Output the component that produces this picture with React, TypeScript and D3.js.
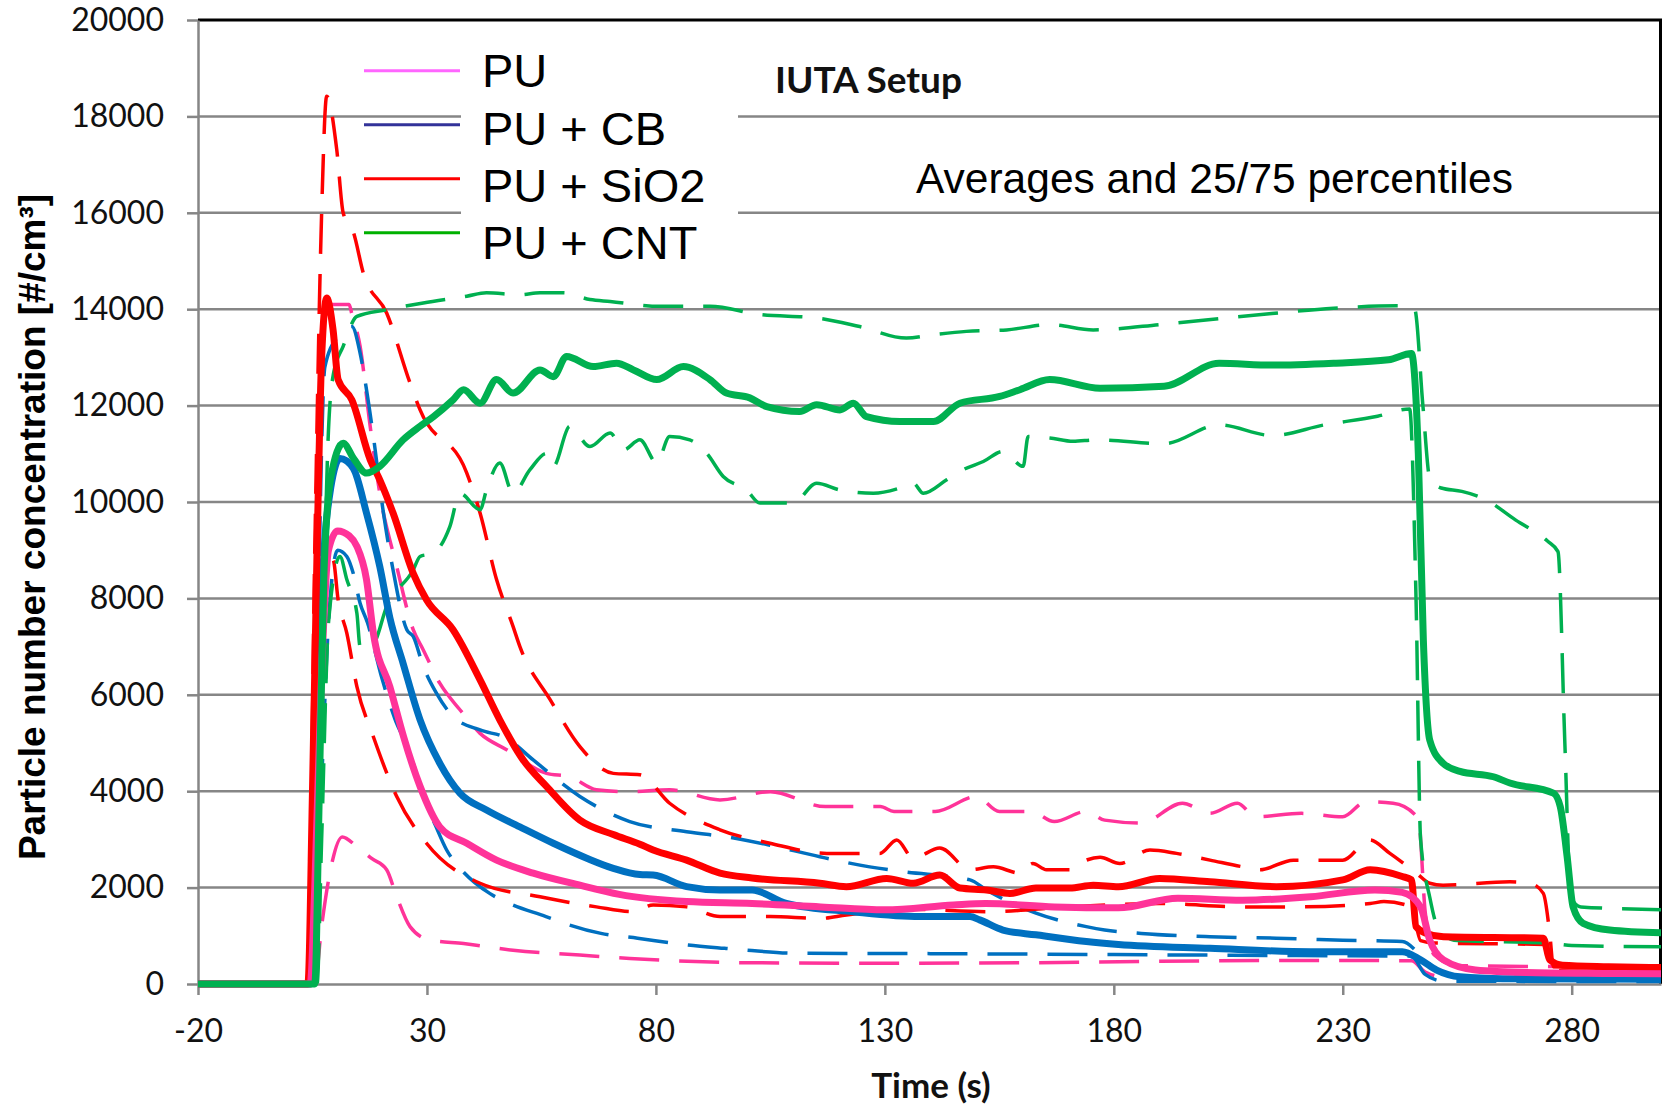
import React, { useEffect, useRef } from "react";
import { select, scaleLinear, axisLeft, axisBottom, line, curveMonotoneX } from "d3";

type Pt = [number, number];

// time (s) ticks and concentration ticks
const xTicks = [-20, 30, 80, 130, 180, 230, 280];
const yTicks = [0, 2000, 4000, 6000, 8000, 10000, 12000, 14000, 16000, 18000, 20000];

// PU
const puAvg: Pt[] = [[-20,0],[4.5,0],[5.5,2000],[7,6500],[8.5,9000],[10.5,9400],[13,9300],[14.7,9080],[16.8,8390],[18.3,7280],[21.9,6170],[24.9,5130],[28.5,4100],[32.8,3260],[38.7,2920],[45.2,2570],[53.2,2300],[63.4,2050],[72,1860],[86.7,1710],[101,1670],[116,1600],[130,1540],[145,1640],[152,1670],[167,1600],[181,1580],[194,1780],[208,1740],[223,1810],[237,1950],[243,1900],[247,1600],[249,910],[252,500],[259,290],[270,240],[288,220],[300,210]];
const puP75: Pt[] = [[-20,0],[4,0],[5,5000],[6.5,12000],[8.5,14100],[13,14100],[13.6,13900],[15.4,13230],[17.6,11570],[19.7,10180],[23.4,8660],[27,7350],[29.2,6930],[32.8,6240],[37.2,5690],[41.6,5200],[47.4,4860],[56.1,4370],[61.2,4300],[67,4030],[74,3990],[83,4030],[94,3820],[105,3990],[117,3680],[129,3680],[132,3580],[141,3580],[150,3890],[155,3580],[162,3580],[167,3370],[174,3580],[178,3400],[186,3340],[195,3750],[201,3540],[207,3750],[211,3470],[221,3540],[230,3470],[235,3780],[241,3750],[246.5,3440],[248,1500],[250,600],[255,380],[300,350]];
const puP25: Pt[] = [[-20,0],[5.5,0],[7,1200],[9,2400],[11.5,3050],[14.7,2850],[18,2600],[21.2,2370],[23.4,1810],[26.3,1190],[30.7,910],[38,840],[48.8,700],[63.4,600],[74.3,530],[101,440],[130,430],[160,440],[200,480],[230,490],[245,480],[248,250],[252,150],[300,130]];

// PU + CB
const cbAvg: Pt[] = [[-20,0],[4.5,0],[5.5,3000],[7,8000],[9,10300],[11,10900],[13.9,10700],[16.8,9770],[19.7,8660],[21.9,7600],[24.8,6650],[28.5,5480],[32.8,4580],[37.2,3960],[43,3610],[50.3,3260],[57.6,2920],[64.9,2610],[70.7,2400],[76.5,2270],[79.4,2260],[86.7,2020],[94,1950],[101,1950],[108.5,1670],[123,1500],[137.6,1400],[148.6,1400],[150.7,1330],[155.8,1120],[163,1020],[174,880],[181,820],[201,740],[223,670],[243,670],[247,500],[250.5,290],[255.6,150],[265,110],[300,100]];
const cbP75: Pt[] = [[-20,0],[4.5,0],[5.5,4000],[7.7,12800],[10.6,13440],[13.6,13640],[15.4,13090],[16.8,12330],[18.3,11360],[20.5,9770],[22.6,8590],[25.6,7350],[27,7210],[29.2,6590],[32.1,6030],[35.7,5550],[41.6,5270],[47.4,5100],[53.2,4650],[63.4,3890],[74.3,3370],[86.7,3160],[97.6,3020],[104.9,2880],[115.8,2640],[126.7,2430],[134,2330],[148.6,2160],[152.2,1950],[163,1470],[174,1190],[178,1120],[186,1050],[201,980],[215.5,950],[230,910],[243,880],[247,600],[251,250],[256,130],[300,120]];
const cbP25: Pt[] = [[-20,0],[5,0],[6.5,3000],[8.5,7500],[10.5,9000],[12.5,8870],[13.9,8520],[15.4,7900],[17,7500],[20,6400],[23,5500],[26.3,4790],[29,3960],[32,3260],[34.3,2780],[37,2430],[43.7,1880],[48,1670],[56,1400],[60,1260],[68,1050],[76,950],[87,810],[95,740],[100,700],[110,640],[140,630],[180,610],[220,590],[245,580],[248,200],[252,60],[300,50]];

// PU + SiO2
const sioAvg: Pt[] = [[-20,0],[4,0],[5,4000],[6,9000],[7,13000],[8.1,14230],[9.5,13570],[10.6,12540],[13.6,12120],[17.6,10880],[19.7,10460],[22.6,9770],[27,8520],[29.9,7970],[35.7,7350],[41.6,6310],[45.9,5480],[51,4650],[56.1,4100],[63.4,3400],[70.7,3100],[76.5,2900],[79.4,2780],[86.7,2570],[94,2300],[101,2200],[115.8,2090],[121.6,2020],[130.4,2190],[136.2,2090],[142,2260],[146.4,1990],[152.2,1950],[157.3,1880],[163,1990],[170.4,1990],[175.5,2050],[181,2020],[190,2190],[201,2120],[215.5,2020],[230,2160],[236,2370],[243,2230],[245,2160],[246,1190],[248.3,1050],[252,980],[273.8,950],[275.2,500],[278,390],[288,360],[300,340]];
const sioP75: Pt[] = [[-20,0],[4,0],[5.5,9000],[7,16000],[8.1,18420],[10.3,17310],[11.7,16000],[14,15580],[16.1,14750],[21.2,13920],[26.3,12470],[28.5,11910],[38.7,10600],[41.6,9770],[45.2,8390],[48.8,7420],[50.3,7000],[56.9,5900],[63.4,4925],[70.7,4370],[76.5,4340],[83,3750],[94,3200],[104.9,2920],[117.3,2710],[128.9,2710],[132.6,2990],[136.2,2610],[142,2820],[148.6,2370],[153.7,2430],[159.5,2300],[162.3,2500],[165.3,2370],[170.4,2370],[174,2570],[177,2630],[181.3,2500],[187.9,2780],[193.7,2710],[201,2570],[208.2,2430],[211.9,2370],[219.2,2570],[230,2570],[235.9,2990],[240.3,2710],[246.1,2300],[249,2090],[251.9,2050],[266.5,2120],[270.9,2090],[273.8,1880],[275.2,1050],[276,360],[300,330]];
const sioP25: Pt[] = [[-20,0],[4.5,0],[6,5000],[8,8500],[9.5,8800],[10.6,7970],[12.5,7280],[14.7,6170],[18.3,5130],[23.4,3890],[29.9,2920],[41.6,2090],[54.7,1810],[67,1600],[75,1500],[79.4,1640],[86.7,1600],[94,1400],[105,1400],[115.8,1360],[121.6,1430],[135,1550],[153,1500],[170,1600],[190,1670],[208,1600],[221,1600],[236,1670],[239,1710],[245,1600],[247,900],[250,850],[274,820],[276,280],[300,250]];

// PU + CNT
const cntAvg: Pt[] = [[-20,0],[5.5,0],[6.5,4000],[7.5,8500],[9,10500],[11.7,11220],[14,10900],[16.8,10600],[19.7,10740],[24.8,11290],[28.5,11570],[31.4,11770],[35.7,12120],[38,12330],[41.6,12050],[45.2,12540],[48.8,12260],[54.7,12740],[57.6,12600],[60.5,13020],[66.3,12810],[71.4,12880],[75.1,12740],[80.2,12540],[86,12810],[91.8,12540],[95.4,12260],[100.5,12160],[104.2,11980],[111.4,11880],[115.1,12020],[120.2,11910],[123.1,12050],[126,11770],[133.3,11670],[140.6,11670],[146.4,12050],[155.1,12190],[159.5,12330],[166,12540],[177,12360],[191,12400],[203,12880],[214.5,12840],[228,12880],[240,12950],[245,13080],[246.5,11000],[247.6,7140],[249,5060],[251.9,4580],[255.6,4410],[262.9,4300],[266.5,4170],[276,3960],[277.5,3680],[279,2640],[280.3,1600],[282.5,1260],[288.3,1120],[300,1060]];
const cntP75: Pt[] = [[-20,0],[5.5,0],[7,6000],[8.5,11500],[9.6,12670],[11.7,13230],[14.7,13850],[21.2,13990],[29.2,14130],[38.7,14270],[43,14340],[50.3,14300],[54.7,14340],[59.8,14340],[65.6,14200],[70,14160],[80.9,14060],[91.8,14060],[102.7,13890],[115.1,13820],[124.5,13640],[134.7,13400],[140.6,13470],[147.8,13540],[156.6,13570],[166,13680],[175.5,13570],[191,13690],[214.5,13910],[228,14020],[242,14070],[245.7,14000],[247.5,12000],[249,10500],[251.5,10290],[256,10220],[260.8,10070],[267.7,9630],[274.7,9190],[277,8970],[278.5,5000],[279.8,1800],[282,1600],[300,1540]];
const cntP25: Pt[] = [[-20,0],[6,0],[7,3000],[8.5,7500],[11,8870],[12.5,8390],[14.7,7690],[15.4,7000],[18.3,7070],[21.2,7830],[27,8590],[28.5,8870],[31.4,8940],[35,9490],[37.2,10180],[41.6,9840],[43,10250],[45.9,10810],[48.8,10180],[52.5,10670],[56.1,11010],[57.6,10740],[61.2,11570],[65.6,11150],[70,11430],[72.9,11080],[76.5,11290],[80.2,10810],[83,11360],[87.4,11290],[91.1,11010],[94.7,10530],[99.8,10250],[102.7,9980],[110,9980],[115.1,10390],[120.2,10250],[127.5,10180],[133.3,10290],[136.2,10390],[138.4,10180],[143.5,10460],[147.1,10670],[151.5,10840],[155.8,11050],[160.2,10740],[161.3,11360],[166,11330],[171.1,11260],[176.2,11290],[191,11210],[203,11600],[214.5,11380],[226,11600],[237.6,11780],[244.6,11930],[246,8000],[247,3000],[249,1800],[251,1120],[255,900],[275,850],[280,800],[300,770]];

const legendNames = ["PU", "PU + CB", "PU + SiO2", "PU + CNT"];
const legendColors = ["#ff66ff", "#333399", "#ff0000", "#00b000"];

const PINK = "#ff3399", BLUE = "#0070c0", RED = "#ff0000", GREEN = "#00b050";

const percentiles = [
  { data: puP75, color: PINK }, { data: puP25, color: PINK },
  { data: cbP75, color: BLUE }, { data: cbP25, color: BLUE },
  { data: sioP75, color: RED }, { data: sioP25, color: RED },
  { data: cntP75, color: GREEN }, { data: cntP25, color: GREEN },
];
const averages = [
  { data: cbAvg, color: BLUE },
  { data: sioAvg, color: RED },
  { data: puAvg, color: PINK },
  { data: cntAvg, color: GREEN },
];

const W = 1662, H = 1104;
const X0 = 198, X1 = 1661, Y0 = 984, Y1 = 20;

export default function App() {
  const svgRef = useRef<SVGSVGElement>(null);

  useEffect(() => {
    const svg = select(svgRef.current);
    svg.selectAll("*").remove();

    const x = scaleLinear().domain([-20, 299.5]).range([X0, X1]);
    const y = scaleLinear().domain([0, 20000]).range([Y0, Y1]);

    svg.append("rect").attr("width", W).attr("height", H).attr("fill", "#fff");

    // horizontal gridlines
    svg.append("g")
      .selectAll("line")
      .data(yTicks.filter(v => v > 0 && v < 20000))
      .join("line")
      .attr("x1", X0).attr("x2", W)
      .attr("y1", d => y(d)).attr("y2", d => y(d))
      .attr("stroke", "#868686").attr("stroke-width", 2.5);

    // top and right border of the plot
    svg.append("path")
      .attr("d", `M${X0},${Y1}H${W - 1.5}V${Y0}`)
      .attr("fill", "none").attr("stroke", "#000").attr("stroke-width", 3);

    const yAxis = svg.append("g").attr("transform", `translate(${X0},0)`)
      .call(axisLeft(y).tickValues(yTicks).tickSize(11).tickSizeOuter(0).tickPadding(23).tickFormat(d => String(d)));
    const xAxis = svg.append("g").attr("transform", `translate(0,${Y0})`)
      .call(axisBottom(x).tickValues(xTicks).tickSize(11).tickSizeOuter(0).tickPadding(24).tickFormat(d => String(d)));
    [yAxis, xAxis].forEach(g => {
      g.select(".domain").attr("stroke", "#868686").attr("stroke-width", 2.5);
      g.selectAll(".tick line").attr("stroke", "#868686").attr("stroke-width", 2.5);
      g.selectAll(".tick text").attr("fill", "#111").style("font-family", "Lato, sans-serif").style("font-size", "32px");
    });

    svg.append("clipPath").attr("id", "plotClip")
      .append("rect").attr("x", X0).attr("y", 0).attr("width", X1 - X0).attr("height", Y0 + 4);

    const lineGen = line<Pt>()
      .x(d => x(d[0]))
      .y(d => y(d[1]))
      .curve(curveMonotoneX);

    const plot = svg.append("g").attr("clip-path", "url(#plotClip)");
    plot.selectAll(".pct")
      .data(percentiles)
      .join("path")
      .attr("class", "pct")
      .attr("fill", "none")
      .attr("stroke", d => d.color)
      .attr("stroke-width", 3.5)
      .attr("stroke-dasharray", "40 20")
      .attr("d", d => lineGen(d.data));
    plot.selectAll(".avg")
      .data(averages)
      .join("path")
      .attr("class", "avg")
      .attr("fill", "none")
      .attr("stroke", d => d.color)
      .attr("stroke-width", 7)
      .attr("stroke-linejoin", "round")
      .attr("d", d => lineGen(d.data));

    // legend
    svg.append("rect").attr("x", 461).attr("y", 36).attr("width", 277).attr("height", 230).attr("fill", "#fff");
    const leg = svg.append("g");
    legendNames.forEach((name, i) => {
      const cy = 70.7 + i * 54;
      leg.append("line").attr("x1", 364).attr("x2", 460).attr("y1", cy).attr("y2", cy)
        .attr("stroke", legendColors[i]).attr("stroke-width", 3);
      leg.append("text").attr("x", 482).attr("y", 87.3 + i * 57.3).text(name)
        .style("font-family", "'Liberation Sans', Arial, sans-serif").style("font-size", "47px").attr("fill", "#000");
    });

    svg.append("text").attr("x", 775).attr("y", 93).text("IUTA Setup")
      .style("font-family", "Lato, sans-serif").style("font-weight", "bold").style("font-size", "37px").attr("fill", "#111");
    svg.append("text").attr("x", 916).attr("y", 193).text("Averages and 25/75 percentiles")
      .style("font-family", "'Liberation Sans', Arial, sans-serif").style("font-size", "42.5px").attr("fill", "#000");

    svg.append("text").attr("x", 931).attr("y", 1098).attr("text-anchor", "middle").text("Time (s)")
      .style("font-family", "Lato, sans-serif").style("font-weight", "bold").style("font-size", "35px").attr("fill", "#111");
    svg.append("text").attr("transform", "translate(45,527) rotate(-90)").attr("text-anchor", "middle")
      .text("Particle number concentration [#/cm³]")
      .style("font-family", "'Liberation Sans', Arial, sans-serif").style("font-weight", "bold").style("font-size", "37px").attr("fill", "#000");
  }, []);

  return (
    <div>
      <style>{`body{margin:0}`}</style>
      <svg ref={svgRef} width={W} height={H} style={{ display: "block" }} />
    </div>
  );
}
